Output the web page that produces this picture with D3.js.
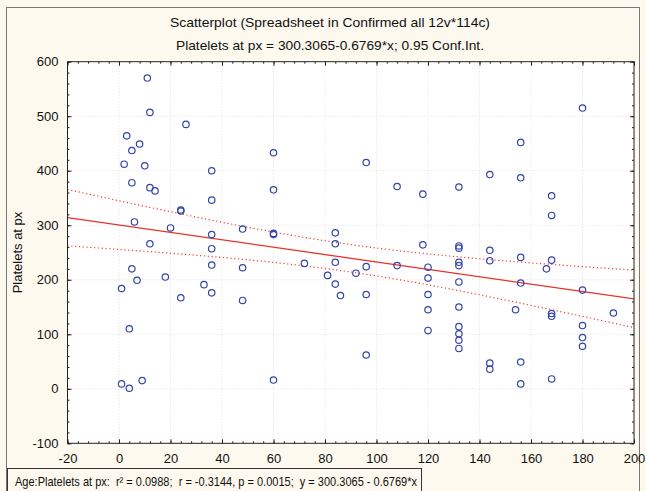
<!DOCTYPE html>
<html>
<head>
<meta charset="utf-8">
<script src="https://cdn.jsdelivr.net/npm/d3@7"></script>
<style>
  html, body { margin: 0; padding: 0; background: #fdf9ee; }
  svg { display: block; }
  text { font-family: "Liberation Sans", Arial, sans-serif; fill: #111; }
</style>
</head>
<body>
<svg id="chart" width="646" height="491"></svg>
<script>
// ---- data (age, platelets) ----
const ages = [
  1, 1, 2, 3, 4, 4, 5, 5, 5, 6, 7, 8, 9, 10, 11, 12, 12, 12, 14, 18, 20,
  24, 24, 24, 26, 33,
  36, 36, 36, 36, 36, 36,
  48, 48, 48,
  60, 60, 60, 60, 60,
  72, 81, 84, 84, 84, 84, 86, 92,
  96, 96, 96, 96,
  108, 108, 118, 118,
  120, 120, 120, 120, 120,
  132, 132, 132, 132, 132, 132, 132, 132, 132, 132, 132,
  144, 144, 144, 144, 144,
  154,
  156, 156, 156, 156, 156, 156,
  166,
  168, 168, 168, 168, 168, 168,
  180, 180, 180, 180, 180,
  192
];
const platelets = [
  184, 9, 412, 464, 110, 1, 437, 378, 220, 306, 199, 449, 15, 409, 570, 507, 369, 266, 363, 205, 295,
  328, 326, 167, 485, 191,
  400, 346, 283, 257, 227, 176,
  293, 222, 162,
  433, 365, 285, 283, 16,
  230, 208, 286, 266, 232, 192, 171, 212,
  415, 224, 173, 62,
  371, 226, 357, 264,
  223, 203, 173, 145, 107,
  370, 262, 258, 232, 226, 196, 150, 114, 101, 89, 74,
  393, 254, 235, 47, 36,
  145,
  452, 387, 241, 194, 49, 9,
  220,
  354, 318, 236, 138, 133, 18,
  515, 181, 116, 94, 78,
  139
];
const xTicks = [-20, 0, 20, 40, 60, 80, 100, 120, 140, 160, 180, 200];
const yTicks = [-100, 0, 100, 200, 300, 400, 500, 600];
const intercept = 300.3065;
const slope = -0.6769;
const tCrit = 1.986; // t(0.975, n-2)
const titleLines = [
  "Scatterplot (Spreadsheet in Confirmed all 12v*114c)",
  "Platelets at px = 300.3065-0.6769*x; 0.95 Conf.Int."
];
const yLabel = "Platelets at px";
const legendText = "Age:Platelets at px:  r\u00B2 = 0.0988;  r = -0.3144, p = 0.0015;  y = 300.3065 - 0.6769*x";

// ---- layout ----
const svg = d3.select("#chart");
const L = 67.5, R = 634, T = 61.7, B = 443.3;
const x = d3.scaleLinear().domain([-20, 200]).range([L, R]);
const y = d3.scaleLinear().domain([-100, 600]).range([B, T]);

// outer frame
svg.append("rect").attr("x", 6.5).attr("y", 7.5).attr("width", 633).attr("height", 490)
  .attr("fill", "#fdf9ee").attr("stroke", "#777").attr("stroke-width", 1);

// plot background
svg.append("rect").attr("x", L).attr("y", T).attr("width", R - L).attr("height", B - T)
  .attr("fill", "#fff");

// grid
const grid = svg.append("g").attr("stroke", "#d8d8d8").attr("stroke-width", 0.8)
  .attr("stroke-dasharray", "1,2");
grid.selectAll(".vx").data(xTicks.slice(1, -1)).join("line")
  .attr("x1", d => x(d)).attr("x2", d => x(d)).attr("y1", T).attr("y2", B);
grid.selectAll(".hy").data(yTicks.slice(1, -1)).join("line")
  .attr("y1", d => y(d)).attr("y2", d => y(d)).attr("x1", L).attr("x2", R);

// ---- regression + confidence band ----
const n = ages.length;
const xbar = d3.mean(ages);
const sxx = d3.sum(ages, a => (a - xbar) ** 2);
const sse = d3.sum(ages, (a, i) => (platelets[i] - (intercept + slope * a)) ** 2);
const s = Math.sqrt(sse / (n - 2));
const half = a => tCrit * s * Math.sqrt(1 / n + (a - xbar) ** 2 / sxx);
const xs = d3.range(-20, 200.01, 2);
const line = d3.line().x(d => x(d[0])).y(d => y(d[1]));

svg.append("path").datum(xs.map(a => [a, intercept + slope * a + half(a)]))
  .attr("d", line).attr("fill", "none").attr("stroke", "#ee3b33")
  .attr("stroke-width", 1.2).attr("stroke-dasharray", "1.2,2.6");
svg.append("path").datum(xs.map(a => [a, intercept + slope * a - half(a)]))
  .attr("d", line).attr("fill", "none").attr("stroke", "#ee3b33")
  .attr("stroke-width", 1.2).attr("stroke-dasharray", "1.2,2.6");
svg.append("path").datum([-20, 200].map(a => [a, intercept + slope * a]))
  .attr("d", line).attr("fill", "none").attr("stroke", "#e8322b").attr("stroke-width", 1.3);

// points
svg.append("g").selectAll("circle").data(ages).join("circle")
  .attr("cx", d => x(d)).attr("cy", (d, i) => y(platelets[i])).attr("r", 3.2)
  .attr("fill", "none").attr("stroke", "#3344a8").attr("stroke-width", 1.2);

// ---- axes ----
const minorX = d3.range(-20, 200.01, 4);
const minorY = d3.range(-100, 600.01, 20);
function styleAxis(g) {
  g.select(".domain").remove();
  g.selectAll("line").attr("stroke", "#222");
  g.selectAll("text").attr("font-size", 13).attr("fill", "#111")
    .attr("font-family", "'Liberation Sans', Arial, sans-serif");
}
// bottom
svg.append("g").attr("transform", `translate(0,${B})`)
  .call(d3.axisBottom(x).tickValues(minorX).tickSize(-2).tickFormat(""))
  .call(styleAxis);
svg.append("g").attr("transform", `translate(0,${B})`)
  .call(d3.axisBottom(x).tickValues(xTicks).tickSize(-4).tickPadding(10).tickFormat(d => String(d)))
  .call(styleAxis);
// top
svg.append("g").attr("transform", `translate(0,${T})`)
  .call(d3.axisTop(x).tickValues(minorX).tickSize(-2).tickFormat(""))
  .call(styleAxis);
svg.append("g").attr("transform", `translate(0,${T})`)
  .call(d3.axisTop(x).tickValues(xTicks).tickSize(-4).tickFormat(""))
  .call(styleAxis);
// left
svg.append("g").attr("transform", `translate(${L},0)`)
  .call(d3.axisLeft(y).tickValues(minorY).tickSize(-2).tickFormat(""))
  .call(styleAxis);
svg.append("g").attr("transform", `translate(${L},0)`)
  .call(d3.axisLeft(y).tickValues(yTicks).tickSize(-4).tickPadding(9).tickFormat(d => String(d)))
  .call(styleAxis);
// right
svg.append("g").attr("transform", `translate(${R},0)`)
  .call(d3.axisRight(y).tickValues(minorY).tickSize(-2).tickFormat(""))
  .call(styleAxis);
svg.append("g").attr("transform", `translate(${R},0)`)
  .call(d3.axisRight(y).tickValues(yTicks).tickSize(-4).tickFormat(""))
  .call(styleAxis);

// plot border
svg.append("rect").attr("x", L).attr("y", T).attr("width", R - L).attr("height", B - T)
  .attr("fill", "none").attr("stroke", "#222").attr("stroke-width", 1);

// titles
svg.append("text").attr("x", 330).attr("y", 27).attr("text-anchor", "middle")
  .attr("font-size", 13.5).attr("textLength", 320).attr("lengthAdjust", "spacingAndGlyphs")
  .text(titleLines[0]);
svg.append("text").attr("x", 330).attr("y", 50).attr("text-anchor", "middle")
  .attr("font-size", 13.5).attr("textLength", 308).attr("lengthAdjust", "spacingAndGlyphs")
  .text(titleLines[1]);

// y label
svg.append("text").attr("transform", `translate(22,${(T + B) / 2}) rotate(-90)`)
  .attr("text-anchor", "middle").attr("font-size", 13).text(yLabel);

// legend box
svg.append("rect").attr("x", 7.5).attr("y", 468.5).attr("width", 414).attr("height", 26)
  .attr("fill", "#fdf9ee").attr("stroke", "#333").attr("stroke-width", 1);
svg.append("text").attr("x", 15).attr("y", 486).attr("font-size", 13)
  .style("white-space", "pre")
  .attr("textLength", 402).attr("lengthAdjust", "spacingAndGlyphs")
  .text(legendText);
</script>
</body>
</html>
